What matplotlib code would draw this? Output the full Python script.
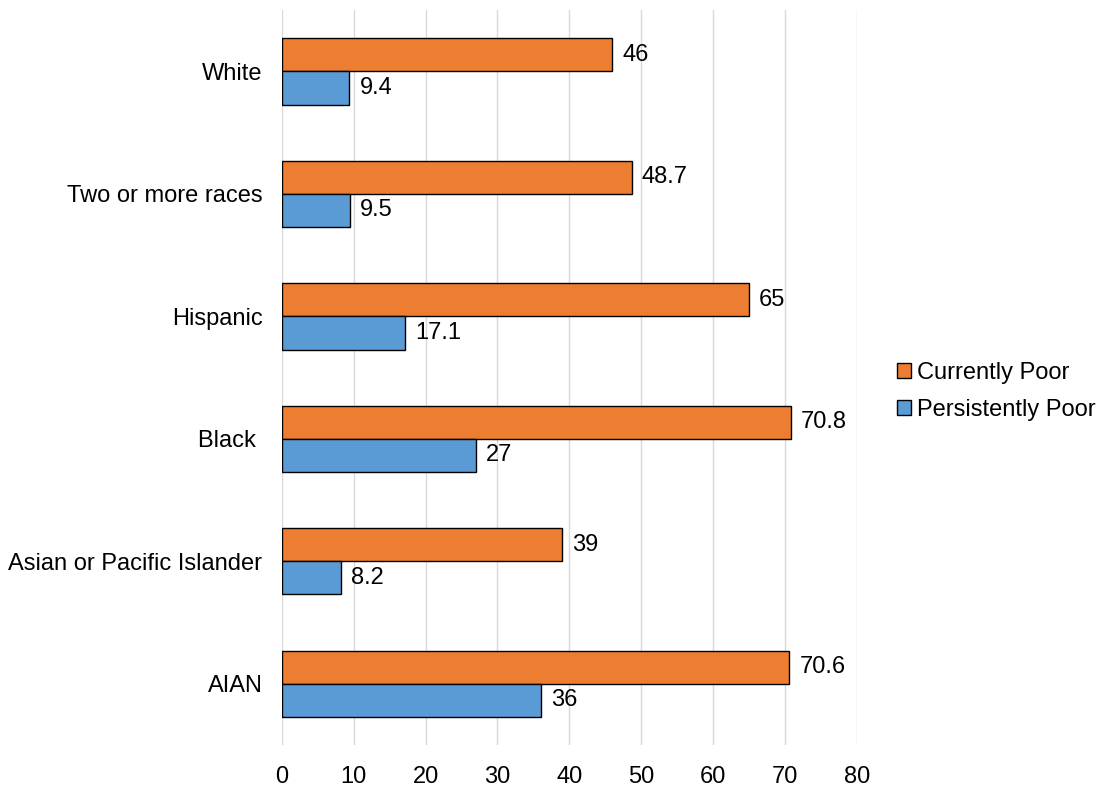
import matplotlib.pyplot as plt
import numpy as np

plt.rcParams['font.family'] = ['Liberation Sans', 'DejaVu Sans']

groups = ['White', 'Two or more races', 'Hispanic', 'Black ', 'Asian or Pacific Islander', 'AIAN']
currently_poor = [46, 48.7, 65, 70.8, 39, 70.6]
persistently_poor = [9.4, 9.5, 17.1, 27, 8.2, 36]
curr_labels = ['46', '48.7', '65', '70.8', '39', '70.6']
pers_labels = ['9.4', '9.5', '17.1', '27', '8.2', '36']

fs = 17

fig = plt.figure(figsize=(10.97, 7.86), dpi=100)
ax = fig.add_axes([0.257, 0.052, 0.524, 0.935])

y = np.arange(len(groups))
h = 0.27
b1 = ax.barh(y - h / 2, currently_poor, height=h, color='#ED7D31', edgecolor='black',
             linewidth=1, label='Currently Poor', zorder=3)
b2 = ax.barh(y + h / 2, persistently_poor, height=h, color='#5B9BD5', edgecolor='black',
             linewidth=1, label='Persistently Poor', zorder=3)

# value labels at the end of each bar
for bar, txt in zip(b1, curr_labels):
    ax.text(bar.get_width() + 1.4, bar.get_y() + bar.get_height() / 2, txt,
            va='center', ha='left', fontsize=fs)
for bar, txt in zip(b2, pers_labels):
    ax.text(bar.get_width() + 1.4, bar.get_y() + bar.get_height() / 2, txt,
            va='center', ha='left', fontsize=fs)

ax.set_ylim(5.5, -0.5)
ax.set_xlim(0, 80)
ax.set_xticks(range(0, 81, 10))
ax.set_yticks(y)
ax.set_yticklabels(groups, fontsize=fs)
ax.tick_params(axis='x', labelsize=fs, length=0, pad=15)
ax.tick_params(axis='y', length=0, pad=14)
ax.xaxis.grid(True, color='#d9d9d9', linewidth=1, zorder=0)
for s in ax.spines.values():
    s.set_visible(False)

ax.legend(loc='center left', bbox_to_anchor=(1.0, 0.481), frameon=False, fontsize=fs,
          handlelength=0.6, handleheight=0.6, handletextpad=0.25, labelspacing=0.65,
          borderaxespad=1.3)

fig.savefig('out.png', dpi=100)
